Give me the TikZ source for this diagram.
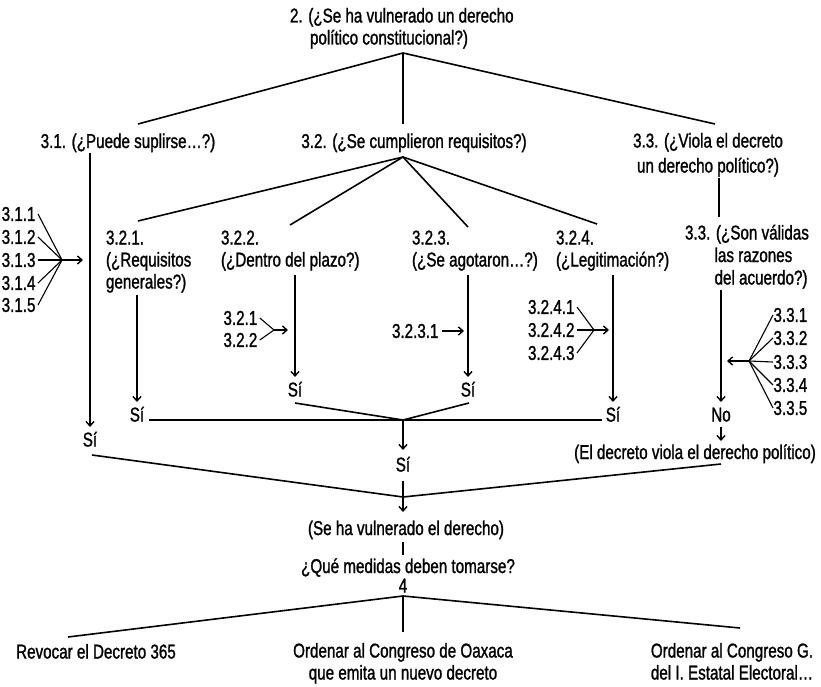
\documentclass[tikz,border=0pt]{standalone}
\usepackage{fontspec}
\setmainfont{Liberation Sans}[FakeStretch=0.76,FakeBold=1.2]
\usetikzlibrary{arrows.meta,calc}

\begin{document}
\begin{tikzpicture}[x=1pt,y=-1pt,
  every node/.style={inner sep=0pt,outer sep=0pt},
  txt/.style={font=\fontsize{20}{22}\selectfont},
  lbl/.style={txt,outer sep=2.5pt},
  ln/.style={line width=1.6pt},
  fan/.style={line width=1.1pt},
  arr/.style={line width=1.4pt,-{Straight Barb[length=4.5pt,width=8pt]}},
]
\fill[white] (0,0) rectangle (821,687);
\useasboundingbox (0,0) rectangle (821,687);

% ---------- questions (multi-line nodes sit on their last baseline) ----------
\node[txt,anchor=base west,align=left] (q2) at (290,44.5)
  {2. (¿Se ha vulnerado un derecho\\\hspace*{20pt}político constitucional?)};
\node[txt,anchor=base] (q31) at (128,148) {3.1. (¿Puede suplirse…?)};
\node[txt,anchor=base] (q32) at (414,148) {3.2. (¿Se cumplieron requisitos?)};
\node[txt,anchor=base,align=center] (q33) at (708,172.5)
  {3.3. (¿Viola el decreto\\[3pt]un derecho político?)};

\node[txt,anchor=base west,align=left] (q321) at (106,288.5) {3.2.1.\\(¿Requisitos\\generales?)};
\node[txt,anchor=base west,align=left] (q322) at (221,266.5) {3.2.2.\\(¿Dentro del plazo?)};
\node[txt,anchor=base west,align=left] (q323) at (412,266.5) {3.2.3.\\(¿Se agotaron…?)};
\node[txt,anchor=base west,align=left] (q324) at (556,266.5) {3.2.4.\\(¿Legitimación?)};
\node[txt,anchor=base west,align=left] (q33b) at (685,284.5)
  {3.3. (¿Son válidas\\[0.5pt]\phantom{3.3.}\ las razones\\[0.5pt]\phantom{3.3.}\ del acuerdo?)};

% ---------- criteria labels ----------
\node[lbl,anchor=east] (c311) at (38,214) {3.1.1};
\node[lbl,anchor=east] (c312) at (38,237) {3.1.2};
\node[lbl,anchor=east] (c313) at (38,260) {3.1.3};
\node[lbl,anchor=east] (c314) at (38,283) {3.1.4};
\node[lbl,anchor=east] (c315) at (38,305) {3.1.5};

\node[lbl,anchor=west] (c3221) at (221,318) {3.2.1};
\node[lbl,anchor=west] (c3222) at (221,340) {3.2.2};

\node[lbl,anchor=west,outer sep=4pt] (c3231) at (388,331) {3.2.3.1};

\node[lbl,anchor=east] (c3241) at (577,307) {3.2.4.1};
\node[lbl,anchor=east] (c3242) at (577,330) {3.2.4.2};
\node[lbl,anchor=east] (c3243) at (577,353) {3.2.4.3};

\node[lbl,anchor=west,outer sep=0.5pt] (c331) at (773,315) {3.3.1};
\node[lbl,anchor=west,outer sep=0.5pt] (c332) at (773,338) {3.3.2};
\node[lbl,anchor=west,outer sep=0.5pt] (c333) at (773,362) {3.3.3};
\node[lbl,anchor=west,outer sep=0.5pt] (c334) at (773,385) {3.3.4};
\node[lbl,anchor=west,outer sep=0.5pt] (c335) at (773,408) {3.3.5};

% ---------- answers ----------
\node[txt,anchor=base] (s31)  at (90,446.5) {Sí};
\node[txt,anchor=base] (s321) at (137,421.5) {Sí};
\node[txt,anchor=base] (s322) at (295,396.5) {Sí};
\node[txt,anchor=base] (s323) at (468,396.5) {Sí};
\node[txt,anchor=base] (s324) at (613,421.5) {Sí};
\node[txt,anchor=base] (no33) at (721,421.5) {No};
\node[txt,anchor=base] (s32)  at (403,471.5) {Sí};
\node[txt,anchor=base] (el33) at (695,459) {(El decreto viola el derecho político)};

\node[txt,anchor=base] (vul)  at (406,535) {(Se ha vulnerado el derecho)};
\node[txt,anchor=base] (med)  at (408,573) {¿Qué medidas deben tomarse?};
\node[txt,anchor=base] (four) at (403,592.5) {4};

\node[txt,anchor=base] (m1) at (96,658.5) {Revocar el Decreto 365};
\node[txt,anchor=base,align=center] (m2) at (403,679.5)
  {Ordenar al Congreso de Oaxaca\\que emita un nuevo decreto};
\node[txt,anchor=base,align=center] (m3) at (732,679.5)
  {Ordenar al Congreso G.\\del I. Estatal Electoral…};

% ---------- branching points ----------
\coordinate (j0)  at (403,53);
\coordinate (e31) at (138,124);
\coordinate (e32) at (403,124);
\coordinate (e33) at (715,124);

\coordinate (j32)  at (403,157);
\coordinate (e321) at (138,221);
\coordinate (e322) at (290,225);
\coordinate (e323) at (468,227);
\coordinate (e324) at (597,224);

\coordinate (j31)   at (62,260);
\coordinate (t31)   at (83,260);
\coordinate (j322)  at (274,330);
\coordinate (t322)  at (288,330);
\coordinate (t323)  at (464,331);
\coordinate (j324)  at (594,330);
\coordinate (t324)  at (609,330);
\coordinate (j33)   at (749,361);
\coordinate (t33)   at (727,361);

\coordinate (h1) at (149,420);
\coordinate (j1) at (403,420);
\coordinate (h2) at (602,420);

\coordinate (j2) at (403,497);
\coordinate (j3) at (403,596);

% ---------- tree lines ----------
\draw[ln] (e31) -- (j0) -- (e33);
\draw[ln] (j0) -- (e32);

\draw[ln] (e321) -- (j32) -- (e324);
\draw[ln] (e322) -- (j32) -- (e323);

\draw[ln] (719,178) -- (719,217);

% ---------- criteria fans ----------
\foreach \c in {c311,c312,c313,c314,c315} \draw[fan] (\c.east) -- (j31);
\draw[arr] (j31) -- (t31);

\draw[fan] (c3221.east) -- (j322) -- (c3222.east);
\draw[arr] (j322) -- (t322);

\draw[arr] (c3231.east) -- (t323);

\draw[fan] (c3241.east) -- (j324) -- (c3243.east);
\draw[fan] (c3242.east) -- (j324);
\draw[arr] (j324) -- (t324);

\foreach \c in {c331,c332,c333,c334,c335} \draw[fan] (\c.west) -- (j33);
\draw[arr] (j33) -- (t33);

% ---------- downward arrows ----------
\draw[arr] (s31 |- 0,153)  -- (s31 |- 0,427);
\draw[arr] (s321 |- 0,295) -- (s321 |- 0,402);
\draw[arr] (s322 |- 0,275) -- (s322 |- 0,377);
\draw[arr] (s323 |- 0,275) -- (s323 |- 0,377);
\draw[arr] (s324 |- 0,275) -- (s324 |- 0,402);
\draw[arr] (no33 |- 0,290) -- (no33 |- 0,402);
\draw[arr] (no33 |- 0,427) -- (no33 |- 0,441);

% ---------- joining the answers ----------
\draw[ln] (h1) -- (h2);
\draw[ln] (s322 |- 0,403) -- (j1) -- (469,403);
\draw[arr] (j1) -- (s32 |- 0,450);

\draw[ln] (92,455) -- (j2) -- (721,464);
\draw[arr] (s32 |- 0,481) -- (s32 |- 0,512);

\draw[ln] (403,542) -- (403,555);

\draw[ln] (68,637) -- (j3) -- (740,628);
\draw[ln] (j3) -- (403,632);
\end{tikzpicture}
\end{document}
